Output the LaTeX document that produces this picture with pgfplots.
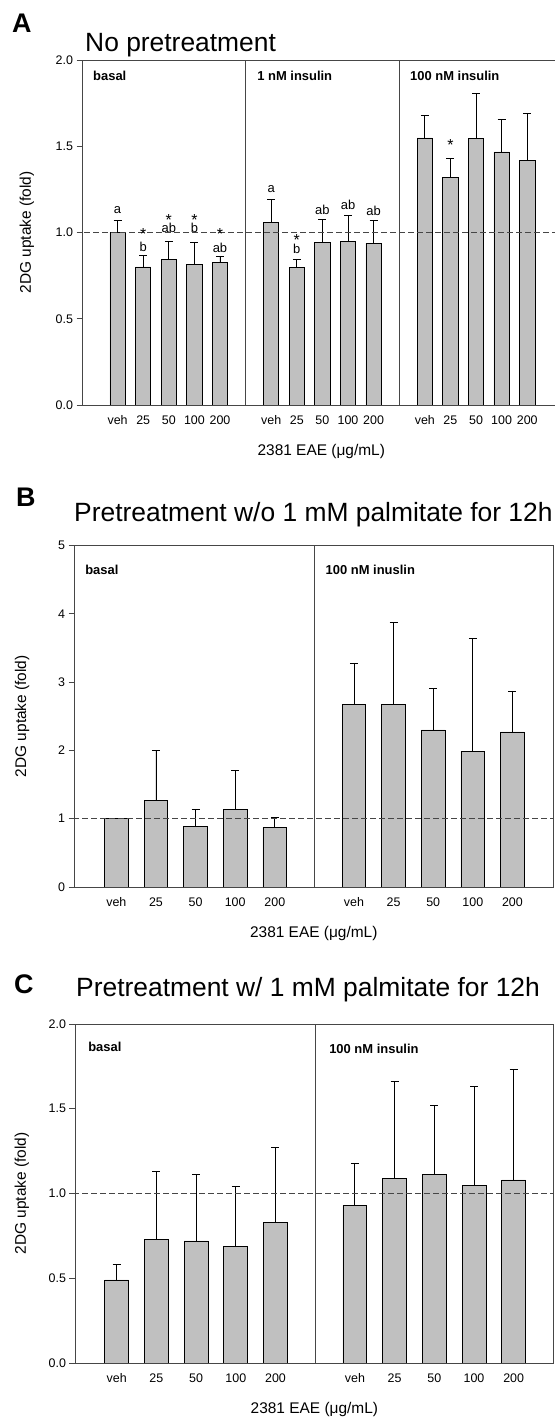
\documentclass[border=0pt]{standalone}
\usepackage{fontspec}
\setmainfont{Liberation Sans}
\usepackage{pgfplots}
\usepackage{pgfplotstable}
\pgfplotsset{compat=1.18}

\definecolor{barfill}{RGB}{192,192,192}
\definecolor{frame}{RGB}{70,70,70}

\newcommand\tickfont{\fontsize{12.5}{14}\selectfont}
\newcommand\grpfont{\fontsize{13}{15}\selectfont}
\newcommand\labfont{\fontsize{15.5}{18}\selectfont}
\newcommand\secfont{\fontsize{13}{15}\selectfont\bfseries}
\newcommand\titlefont{\fontsize{26.5}{30}\selectfont}
\newcommand\letterfont{\fontsize{27}{30}\selectfont\bfseries}
\newcommand\starfont{\fontsize{16}{18}\selectfont}

% x: bar position, y: mean, ep: upper error
\pgfplotstableread{
x  y     ep
0  1.000 0.070
1  0.800 0.066
2  0.842 0.105
3  0.815 0.126
4  0.825 0.037
6  1.059 0.133
7  0.796 0.049
8  0.941 0.133
9  0.947 0.153
10 0.939 0.129
12 1.548 0.131
13 1.318 0.110
14 1.546 0.259
15 1.467 0.187
16 1.420 0.271
}\dataA

\pgfplotstableread{
x  y     ep
0  1.000 0.010
1  1.270 0.730
2  0.885 0.255
3  1.130 0.580
4  0.870 0.150
6  2.670 0.610
7  2.670 1.200
8  2.300 0.610
9  1.990 1.650
10 2.270 0.600
}\dataB

\pgfplotstableread{
x  y     ep
0  0.490 0.090
1  0.730 0.400
2  0.720 0.390
3  0.690 0.350
4  0.830 0.440
6  0.930 0.250
7  1.090 0.570
8  1.110 0.410
9  1.050 0.580
10 1.080 0.650
}\dataC

\tikzset{
  onedash/.style={frame, line width=0.8bp, dash pattern=on 6bp off 3bp},
  divider/.style={frame, line width=0.9bp},
  grp/.style={font=\grpfont, inner sep=0},
  star/.style={font=\starfont, inner sep=0, anchor=base},
}

\pgfplotsset{
  panel/.style={
    scale only axis,
    anchor=south west,
    ybar, bar width=0.6,
    axis line style={frame, line width=0.9bp},
    tick align=outside,
    major tick length=5.5bp,
    ytick pos=left, xtick pos=bottom,
    ytick style={frame, line width=0.9bp},
    xtick style={draw=none},
    tick label style={font=\tickfont},
    /pgf/number format/assume math mode=true,
    xtick={0,1,2,3,4,6,7,8,9,10},
    xticklabels={veh,25,50,100,200,veh,25,50,100,200},
    xticklabel style={yshift=-1bp, text height=9bp, text depth=0bp},
    xlabel={2381 EAE (μg/mL)},
    ylabel={2DG uptake (fold)},
    every axis x label/.style={at={(axis description cs:0.5,0)}, anchor=center, yshift=-47bp, font=\labfont},
    ymin=0,
  },
  bars/.style={fill=barfill, draw=black, line width=0.8bp,
    error bars/.cd, y dir=plus, y explicit,
    error bar style={black, line width=0.8bp},
    error mark options={rotate=90, mark size=4bp, line width=0.8bp, black}},
}

\begin{document}
\begin{tikzpicture}
\path[use as bounding box] (0,0) rectangle (555bp,1419bp);

% ---------------- A: no pretreatment ----------------
\node[anchor=base west, inner sep=0, font=\letterfont] at (12bp,1386bp) {A};
\node[anchor=base west, inner sep=0, font=\titlefont] at (85bp,1367bp) {No pretreatment};
\begin{axis}[panel, at={(82bp,1014bp)}, width=478.5bp, height=345bp,
  xmin=-1.39, xmax=17.3, ymax=2,
  ytick={0,0.5,1,1.5,2},
  yticklabel style={/pgf/number format/fixed, /pgf/number format/fixed zerofill, /pgf/number format/precision=1},
  xtick={0,1,2,3,4,6,7,8,9,10,12,13,14,15,16},
  xticklabels={veh,25,50,100,200,veh,25,50,100,200,veh,25,50,100,200},
  every axis y label/.style={at={(axis description cs:-0.115,0.5)}, rotate=90, anchor=center, font=\labfont},
]
\addplot[bars] table[x=x, y=y, y error=ep] {\dataA};
\draw[onedash] (axis cs:-2,1) -- (axis cs:18,1);
\draw[divider] (axis cs:5,0) -- (axis cs:5,2);
\draw[divider] (axis cs:11,0) -- (axis cs:11,2);
\node[anchor=west, font=\secfont, inner sep=0] at (axis cs:-0.96,1.91) {basal};
\node[anchor=west, font=\secfont, inner sep=0] at (axis cs:5.45,1.91) {1 nM insulin};
\node[anchor=west, font=\secfont, inner sep=0] at (axis cs:11.42,1.91) {100 nM insulin};
% group letters
\node[grp] at (axis cs:0,1.13) {a};
\node[grp] at (axis cs:1,0.915) {b};
\node[grp] at (axis cs:2,1.025) {ab};
\node[grp] at (axis cs:3,1.025) {b};
\node[grp] at (axis cs:4,0.913) {ab};
\node[grp] at (axis cs:6,1.252) {a};
\node[grp] at (axis cs:7,0.905) {b};
\node[grp] at (axis cs:8,1.13) {ab};
\node[grp] at (axis cs:9,1.16) {ab};
\node[grp] at (axis cs:10,1.126) {ab};
% significance marks
\node[star] at (axis cs:1,0.962) {\smash{*}};
\node[star] at (axis cs:2,1.04) {\smash{*}};
\node[star] at (axis cs:3,1.04) {\smash{*}};
\node[star] at (axis cs:4,0.962) {\smash{*}};
\node[star] at (axis cs:7,0.922) {\smash{*}};
\node[star] at (axis cs:13,1.475) {\smash{*}};
\end{axis}

% ---------------- B: pretreatment without palmitate ----------------
\node[anchor=base west, inner sep=0, font=\letterfont] at (16bp,912bp) {B};
\node[anchor=base west, inner sep=0, font=\titlefont] at (74bp,897bp) {Pretreatment w/o 1 mM palmitate for 12h};
\begin{axis}[panel, at={(74bp,532bp)}, width=479.6bp, height=341.5bp,
  xmin=-1.07, xmax=11.04, ymax=5,
  ytick={0,1,2,3,4,5},
  every axis y label/.style={at={(axis description cs:-0.108,0.5)}, rotate=90, anchor=center, font=\labfont},
]
\addplot[bars] table[x=x, y=y, y error=ep] {\dataB};
\draw[onedash] (axis cs:-2,1) -- (axis cs:12,1);
\draw[divider] (axis cs:5,0) -- (axis cs:5,5);
\node[anchor=west, font=\secfont, inner sep=0] at (axis cs:-0.79,4.65) {basal};
\node[anchor=west, font=\secfont, inner sep=0] at (axis cs:5.28,4.65) {100 nM inuslin};
\end{axis}

% ---------------- C: pretreatment with palmitate ----------------
\node[anchor=base west, inner sep=0, font=\letterfont] at (14bp,425bp) {C};
\node[anchor=base west, inner sep=0, font=\titlefont] at (76bp,422bp) {Pretreatment w/ 1 mM palmitate for 12h};
\begin{axis}[panel, at={(75bp,56bp)}, width=478.8bp, height=339bp,
  xmin=-1.05, xmax=11.01, ymax=2,
  ytick={0,0.5,1,1.5,2},
  yticklabel style={/pgf/number format/fixed, /pgf/number format/fixed zerofill, /pgf/number format/precision=1},
  every axis y label/.style={at={(axis description cs:-0.111,0.5)}, rotate=90, anchor=center, font=\labfont},
]
\addplot[bars] table[x=x, y=y, y error=ep] {\dataC};
\draw[onedash] (axis cs:-2,1) -- (axis cs:12,1);
\draw[divider] (axis cs:5,0) -- (axis cs:5,2);
\node[anchor=west, font=\secfont, inner sep=0] at (axis cs:-0.72,1.865) {basal};
\node[anchor=west, font=\secfont, inner sep=0] at (axis cs:5.35,1.855) {100 nM insulin};
\end{axis}
\end{tikzpicture}
\end{document}
